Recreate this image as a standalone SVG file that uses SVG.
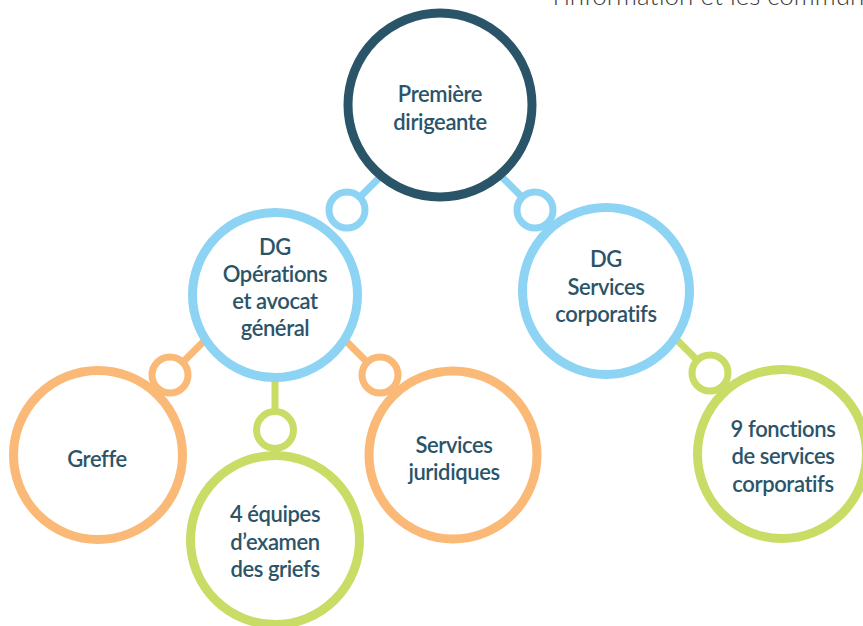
<svg xmlns="http://www.w3.org/2000/svg" width="863" height="626" viewBox="0 0 863 626">
  <style>
    .ring { fill: #ffffff; stroke-width: 9; }
    .knob { fill: #ffffff; stroke-width: 7; }
    .link { stroke-width: 7; fill: none; }
    .navy { stroke: #2a5468; }
    .blue { stroke: #8dd3f3; }
    .orange { stroke: #fbb977; }
    .green { stroke: #c8dc66; }
    .label { font-family: Lato, "Liberation Sans", sans-serif; font-weight: 600; font-size: 22px; letter-spacing: -0.4px; fill: #2b5468; text-anchor: middle; }
    .caption { font-family: Lato, "Liberation Sans", sans-serif; font-weight: 300; font-size: 26px; fill: #3c3c3c; }
  </style>
  <rect width="863" height="626" fill="#ffffff"/>

  <text class="caption" x="553" y="4.5">l’information et les communications</text>

  <!-- connector stems, drawn under the circles -->
  <g id="connectors">
    <line class="link blue" x1="347" y1="210" x2="385" y2="172"/>
    <line class="link blue" x1="535" y1="210" x2="497" y2="172"/>
    <line class="link orange" x1="170" y1="375" x2="215" y2="330"/>
    <line class="link orange" x1="380" y1="375" x2="335" y2="330"/>
    <line class="link green" x1="275" y1="430" x2="275" y2="370"/>
    <line class="link green" x1="710" y1="373" x2="670" y2="333"/>
    <circle class="knob blue" cx="347" cy="210" r="18"/>
    <circle class="knob blue" cx="535" cy="210" r="18"/>
    <circle class="knob orange" cx="170" cy="375" r="18"/>
    <circle class="knob orange" cx="380" cy="375" r="18"/>
    <circle class="knob green" cx="275" cy="430" r="18.5"/>
    <circle class="knob green" cx="710" cy="373" r="18"/>
  </g>

  <g id="premiere-dirigeante">
    <circle class="ring navy" cx="440" cy="105" r="92" stroke-width="10"/>
    <text class="label" x="440" y="102">Première</text>
    <text class="label" x="440" y="130">dirigeante</text>
  </g>

  <g id="dg-operations">
    <circle class="ring blue" cx="275" cy="295" r="82.5"/>
    <text class="label" x="275" y="255">DG</text>
    <text class="label" x="275" y="282">Opérations</text>
    <text class="label" x="275" y="309">et avocat</text>
    <text class="label" x="275" y="336">général</text>
  </g>

  <g id="dg-services-corporatifs">
    <circle class="ring blue" cx="606" cy="291" r="83.5"/>
    <text class="label" x="606" y="267">DG</text>
    <text class="label" x="606" y="295">Services</text>
    <text class="label" x="606" y="322">corporatifs</text>
  </g>

  <g id="greffe">
    <circle class="ring orange" cx="98" cy="455" r="84.5"/>
    <text class="label" x="97" y="467">Greffe</text>
  </g>

  <g id="equipes-griefs">
    <circle class="ring green" cx="275" cy="540" r="84.5"/>
    <text class="label" x="275" y="522">4 équipes</text>
    <text class="label" x="275" y="550">d’examen</text>
    <text class="label" x="275" y="577">des griefs</text>
  </g>

  <g id="services-juridiques">
    <circle class="ring orange" cx="453" cy="455" r="84"/>
    <text class="label" x="454" y="453">Services</text>
    <text class="label" x="454" y="480">juridiques</text>
  </g>

  <g id="fonctions-services">
    <circle class="ring green" cx="782" cy="454" r="84.5"/>
    <text class="label" x="783" y="437">9 fonctions</text>
    <text class="label" x="783" y="464">de services</text>
    <text class="label" x="783" y="492">corporatifs</text>
  </g>
</svg>
